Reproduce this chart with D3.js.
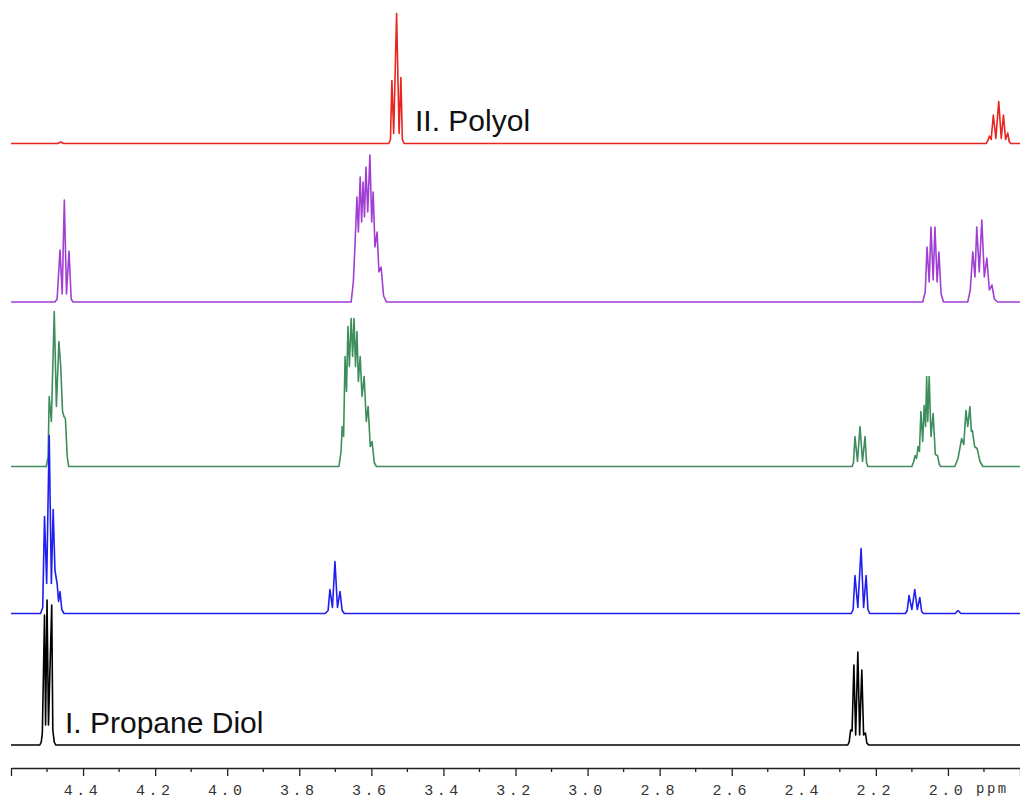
<!DOCTYPE html>
<html>
<head>
<meta charset="utf-8">
<script src="https://cdn.jsdelivr.net/npm/d3@7"></script>
<style>
  body { margin: 0; background: #fff; }
  .axis path, .axis line { stroke: #222; stroke-width: 1.3px; }
  .axis text { font-family: "Liberation Mono", "DejaVu Sans Mono", monospace; font-size: 15px; fill: #333; letter-spacing: 3.5px; }
  .label { font-family: "Liberation Sans", Arial, sans-serif; font-size: 30px; fill: #111; }
</style>
</head>
<body>
<div id="nmr"></div>
<script>
// spectra: [ppm, intensity above baseline]
var polyol = [
  [4.60,0],[4.470,0],[4.462,1.5],[4.454,0],[3.552,0],[3.547,4],[3.543,63],[3.538,10],[3.530,130],
  [3.523,10],[3.518,66],[3.514,4],[3.509,0],[3.40,0],[1.894,0],[1.889,3],[1.885,7.5],[1.880,4],
  [1.874,28.5],[1.867,5],[1.859,42],[1.852,5],[1.846,28.5],[1.840,4],[1.834,10.5],[1.830,2],[1.826,0],[1.80,0]
];
var mixA = [
  [4.60,0],[4.478,0],[4.472,3],[4.464,52],[4.458,8],[4.452,102],[4.446,8],[4.439,51],[4.433,3],[4.428,0],
  [3.656,0],[3.650,20],[3.645,60],[3.640,105],[3.636,70],[3.631,125],[3.627,80],[3.623,120],[3.619,85],
  [3.615,135],[3.610,90],[3.604,147],[3.599,80],[3.595,110],[3.590,55],[3.584,70],[3.579,30],[3.573,35],
  [3.566,6],[3.558,0],
  [2.070,0],[2.063,10],[2.058,55],[2.052,20],[2.047,75],[2.041,22],[2.036,75],[2.030,20],[2.025,50],[2.019,8],[2.012,0],
  [1.945,0],[1.938,12],[1.931,50],[1.925,25],[1.920,75],[1.913,30],[1.906,82],[1.899,25],[1.892,44],[1.885,12],
  [1.878,17],[1.871,3],[1.862,0],[1.80,0]
];
var mixB = [
  [4.60,0],[4.502,0],[4.497,10],[4.494,70],[4.488,45],[4.480,155],[4.474,60],[4.467,125],[4.462,100],
  [4.457,55],[4.453,50],[4.449,48],[4.444,10],[4.440,0],
  [3.690,0],[3.684,15],[3.681,40],[3.677,30],[3.673,110],[3.669,75],[3.665,140],[3.661,100],[3.656,148],
  [3.652,110],[3.648,148],[3.644,100],[3.640,135],[3.636,85],[3.631,110],[3.626,70],[3.620,90],[3.614,45],
  [3.609,60],[3.603,20],[3.598,25],[3.592,4],[3.586,0],
  [2.266,0],[2.262,4],[2.258,30],[2.251,5],[2.244,40],[2.237,5],[2.230,30],[2.226,4],[2.222,0],
  [2.100,0],[2.095,5],[2.091,11],[2.087,8],[2.083,20],[2.079,15],[2.075,55],[2.070,25],[2.066,61],[2.062,40],
  [2.059,90],[2.056,45],[2.052,90],[2.047,30],[2.041,53],[2.035,12],[2.029,11],[2.024,2],[2.020,0],
  [1.981,0],[1.972,8],[1.962,28],[1.956,22],[1.950,56],[1.945,40],[1.939,60],[1.935,35],[1.932,36],
  [1.926,20],[1.919,18],[1.911,5],[1.903,0],[1.80,0]
];
var mixC = [
  [4.60,0],[4.518,0],[4.512,6],[4.507,97],[4.501,30],[4.494,178],[4.488,30],[4.483,104],[4.478,43],
  [4.472,30],[4.468,12],[4.464,22],[4.459,4],[4.453,0],
  [3.728,0],[3.720,3],[3.715,24],[3.708,6],[3.701,52],[3.694,6],[3.687,22],[3.681,3],[3.675,0],
  [2.268,0],[2.263,4],[2.258,38],[2.250,6],[2.241,65],[2.234,6],[2.227,38],[2.222,4],[2.217,0],
  [2.118,0],[2.113,3],[2.108,18],[2.100,4],[2.092,24],[2.085,4],[2.078,16],[2.073,2],[2.068,0],
  [1.980,0],[1.972,3],[1.964,0],[1.80,0]
];
var diol = [
  [4.60,0],[4.520,0],[4.516,3],[4.513,12],[4.507,130],[4.504,20],[4.500,145],[4.496,20],[4.487,140],
  [4.484,15],[4.480,3],[4.476,0],
  [2.278,0],[2.274,3],[2.270,15],[2.266,14],[2.261,80],[2.256,10],[2.250,93],[2.245,10],[2.239,75],
  [2.234,10],[2.229,12],[2.225,2],[2.220,0],[1.80,0]
];

var spectra = [polyol, mixA, mixB, mixC, diol];
var spectrumColors = ["#e8251f", "#a13fd4", "#3e8d5d", "#1f1ff0", "#000000"];
var ppmTicks = [4.6, 4.4, 4.2, 4.0, 3.8, 3.6, 3.4, 3.2, 3.0, 2.8, 2.6, 2.4, 2.2, 2.0, 1.8];
var ppmMinor = [4.5, 4.3, 4.1, 3.9, 3.7, 3.5, 3.3, 3.1, 2.9, 2.7, 2.5, 2.3, 2.1, 1.9];

var width = 1020, height = 800;
var baselines = [143.5, 302, 466.5, 613.5, 745];

var svg = d3.select("#nmr")
  .append("svg")
  .attr("width", width)
  .attr("height", height);

var x = d3.scaleLinear().domain([4.6, 1.8]).range([11, 1020]);
var y = d3.scaleLinear().domain([0, 100]).range([0, -100]);

var line = d3.line()
  .x(function(d) { return x(d[0]); })
  .y(function(d) { return y(d[1]); });

spectra.forEach(function(s, i) {
  svg.append("g")
    .attr("transform", "translate(0," + baselines[i] + ")")
    .append("path")
    .datum(s)
    .attr("d", line)
    .attr("fill", "none")
    .attr("stroke", spectrumColors[i])
    .attr("stroke-width", 1.6)
    .attr("stroke-linejoin", "round");
});

svg.append("text").attr("class", "label").attr("x", 415).attr("y", 131).text("II. Polyol");
svg.append("text").attr("class", "label").attr("x", 65).attr("y", 733).text("I. Propane Diol");

// ppm axis
var axisY = 768;
var xAxis = d3.axisBottom(x)
  .tickValues(ppmTicks)
  .tickSize(8)
  .tickSizeOuter(0)
  .tickFormat(function(d) { return (d > 4.5 || d < 1.9) ? "" : d.toFixed(1); });

var gAxis = svg.append("g")
  .attr("class", "axis")
  .attr("transform", "translate(0," + axisY + ")")
  .call(xAxis);
gAxis.selectAll("text").attr("y", 16).attr("dx", "-1px");

gAxis.selectAll(".minor")
  .data(ppmMinor)
  .enter().append("line")
  .attr("class", "minor")
  .attr("x1", function(d) { return x(d); })
  .attr("x2", function(d) { return x(d); })
  .attr("y1", 0)
  .attr("y2", 4);

gAxis.append("text")
  .attr("x", 976)
  .attr("y", 25)
  .attr("text-anchor", "start")
  .style("font-size", "14px")
  .style("letter-spacing", "2.5px")
  .text("ppm");
</script>
</body>
</html>
